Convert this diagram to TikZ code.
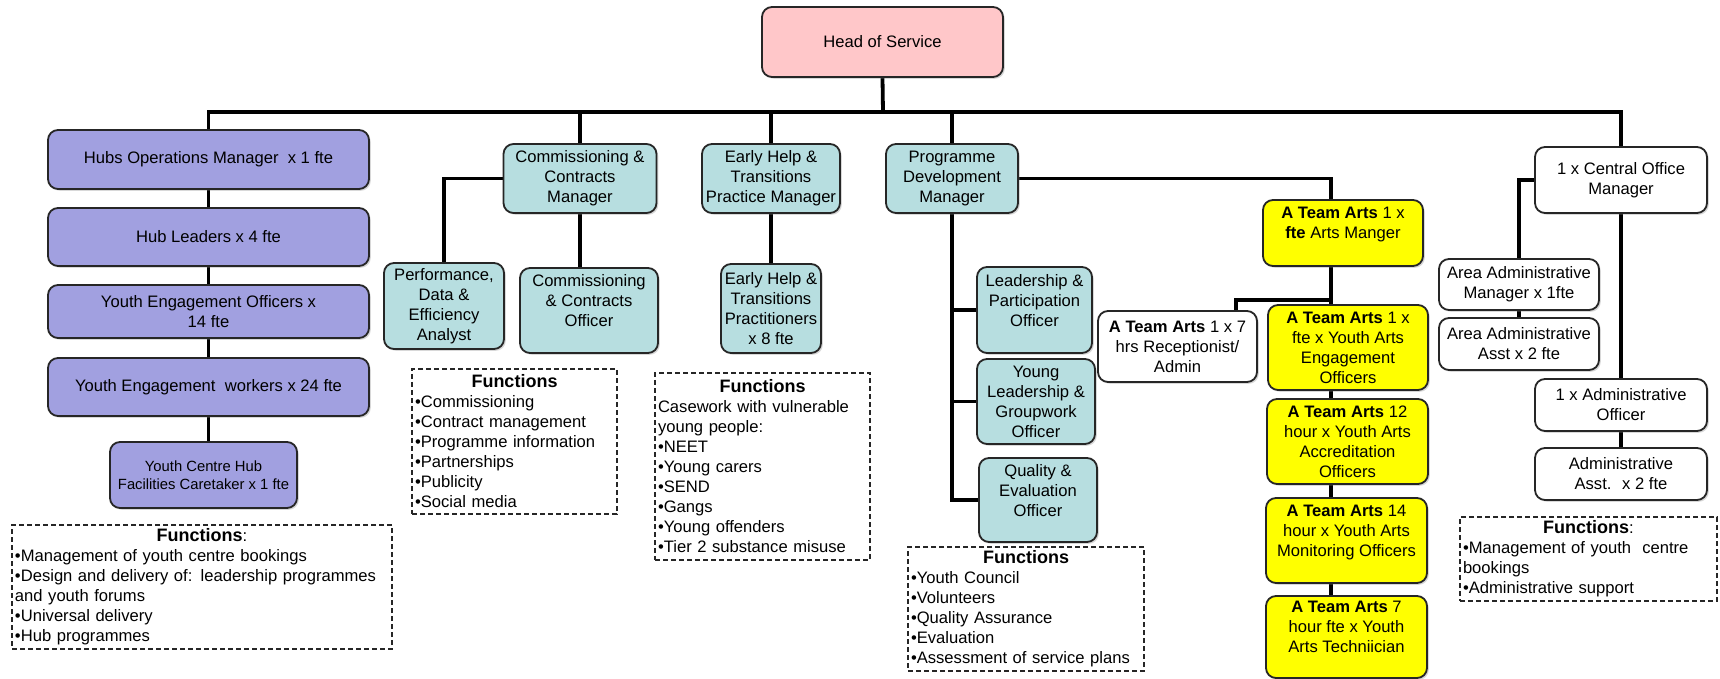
\documentclass[tikz,border=0pt]{standalone}
\usepackage{fontspec}
\setmainfont{Liberation Sans}
\usetikzlibrary{shadows,backgrounds}

\definecolor{hubfill}{RGB}{161,160,224}
\definecolor{tealfill}{RGB}{183,222,224}
\definecolor{headfill}{RGB}{255,199,201}
\definecolor{artsfill}{RGB}{255,255,0}

\newcommand\fsz{\fontsize{8.3}{10}\selectfont}
\newcommand\fsmall{\fontsize{7.4}{9}\selectfont}
\newcommand\fntitle[1]{\makebox[\linewidth]{{\fontsize{9}{10}\selectfont\bfseries Functions}#1}}

\begin{document}
\begin{tikzpicture}[x=0.5pt,y=-0.5pt,
  box/.style={draw=black!85, line width=0.9pt, rounded corners=5pt, align=center,
    inner sep=1pt, font=\fsz,
    drop shadow={shadow xshift=0.9pt, shadow yshift=-0.9pt, opacity=0.3}},
  wh/.style 2 args={minimum width=#1*0.5pt, minimum height=#2*0.5pt},
  hub/.style={box, fill=hubfill},
  teal/.style={box, fill=tealfill},
  arts/.style={box, fill=artsfill},
  plain/.style={box, fill=white},
  fnbox/.style={draw=black!85, line width=0.7pt, dash pattern=on 2.5pt off 1.5pt,
    align=left, inner sep=1.5pt, font=\fsz, fill=white},
  conn/.style={line width=1.9pt, black}]

\useasboundingbox (0,0) rectangle (1720,679);

% head
\node[box, fill=headfill, wh={241}{70}] (head) at (882.5,42) {Head of Service};

% hubs column
\node[hub, wh={321}{59}] (hubops) at (208.5,159.5) {Hubs Operations Manager \ x 1 fte};
\node[hub, wh={321}{58}] (hubldr) at (208.5,237) {Hub Leaders x 4 fte};
\node[hub, wh={321}{53}] (yeo) at (208.5,311.5) {Youth Engagement Officers x\\14 fte};
\node[hub, wh={321}{58}] (yew) at (208.5,387) {Youth Engagement \ workers x 24 fte};
\node[hub, wh={187}{66}, font=\fsmall] (caretaker) at (203.5,475) {Youth Centre Hub\\Facilities Caretaker x 1 fte};
\node[fnbox, minimum width=190pt, minimum height=62pt, text width=187pt] (fnhub) at (202,587)
  {\fntitle{:}\\
   •Management of youth centre bookings\\
   •Design and delivery of: leadership programmes\\
   and youth forums\\
   •Universal delivery\\
   •Hub programmes};

% commissioning
\node[teal, wh={153}{69}] (commgr) at (580,178.5) {Commissioning \&\\Contracts\\Manager};
\node[teal, wh={120}{86}] (perf) at (444,306) {Performance,\\Data \&\\Efficiency\\Analyst};
\node[teal, wh={138}{85}] (commoff) at (589,310.5) {Commissioning\\\& Contracts\\Officer\\\mbox{}};
\node[fnbox, minimum width=102.5pt, minimum height=72.5pt, text width=99.5pt] (fncomm) at (514.5,441.5)
  {\fntitle{}\\
   •Commissioning\\
   •Contract management\\
   •Programme information\\
   •Partnerships\\
   •Publicity\\
   •Social media};

% early help
\node[teal, wh={138}{69}] (ehmgr) at (771,178.5) {Early Help \&\\Transitions\\Practice Manager};
\node[teal, wh={100}{89}] (ehprac) at (771,308.5) {Early Help \&\\Transitions\\Practitioners\\x 8 fte};
\node[fnbox, minimum width=107.5pt, minimum height=93.5pt, text width=104.5pt] (fncase) at (762.5,466.5)
  {\fntitle{}\\
   Casework with vulnerable\\
   young people:\\
   •NEET\\
   •Young carers\\
   •SEND\\
   •Gangs\\
   •Young offenders\\
   •Tier 2 substance misuse};

% programme development
\node[teal, wh={132}{69}] (progmgr) at (952,178.5) {Programme\\Development\\Manager};
\node[teal, wh={115}{86}] (lead) at (1034.5,310) {Leadership \&\\Participation\\Officer\\\mbox{}};
\node[teal, wh={118}{85}] (younglead) at (1036,401.5) {Young\\Leadership \&\\Groupwork\\Officer};
\node[teal, wh={118}{84}] (quality) at (1038,500) {Quality \&\\Evaluation\\Officer\\\mbox{}};
\node[fnbox, minimum width=118pt, minimum height=62pt, text width=115pt] (fnprog) at (1026,609)
  {\fntitle{}\\
   •Youth Council\\
   •Volunteers\\
   •Quality Assurance\\
   •Evaluation\\
   •Assessment of service plans};

% A Team Arts
\node[arts, wh={160}{66}] (artsmgr) at (1343,233) {\textbf{A Team Arts} 1 x\\\textbf{fte} Arts Manger\\\mbox{}};
\node[plain, wh={159}{71}] (recep) at (1177.5,346.5) {\textbf{A Team Arts} 1 x 7\\hrs Receptionist/\\Admin};
\node[arts, wh={160}{85}] (engage) at (1348,347.5) {\textbf{A Team Arts} 1 x\\fte x Youth Arts\\Engagement\\Officers};
\node[arts, wh={161}{85}] (accred) at (1347.5,441.5) {\textbf{A Team Arts} 12\\hour x Youth Arts\\Accreditation\\Officers};
\node[arts, wh={161}{85}] (monitor) at (1346.5,540.5) {\textbf{A Team Arts} 14\\hour x Youth Arts\\Monitoring Officers\\\mbox{}};
\node[arts, wh={161}{82}] (tech) at (1346.5,637) {\textbf{A Team Arts} 7\\hour fte x Youth\\Arts Techniician\\\mbox{}};

% central office
\node[plain, wh={172}{66}] (central) at (1621,180) {1 x Central Office\\Manager};
\node[plain, wh={160}{51}] (aam) at (1519,284.5) {Area Administrative\\Manager x 1fte};
\node[plain, wh={160}{52}] (aaa) at (1519,344) {Area Administrative\\Asst x 2 fte};
\node[plain, wh={172}{52}] (adminoff) at (1621,405) {1 x Administrative\\Officer};
\node[plain, wh={172}{52}] (adminasst) at (1621,474) {Administrative\\Asst. \ x 2 fte};
\node[fnbox, minimum width=128.5pt, minimum height=42pt, text width=125.5pt] (fnadmin) at (1588.5,559)
  {\fntitle{:}\\
   •Management of youth \ centre\\
   bookings\\
   •Administrative support};

% junction points of the connectors
\coordinate (busy) at (883,112);
\coordinate (artsx) at (1331,180);
\coordinate (recx) at (1236,300);

\begin{pgfonlayer}{background}
  \fill[white] (0,0) rectangle (1720,679);
  % main bus
  \draw[conn] (head.south) -- (busy);
  \draw[conn] (hubops.north) -- (hubops.north |- busy) -- (central.north |- busy) -- (central.north);
  \draw[conn] (commgr.north) -- (commgr.north |- busy);
  \draw[conn] (ehmgr.north) -- (ehmgr.north |- busy);
  \draw[conn] (progmgr.north) -- (progmgr.north |- busy);
  % hubs chain
  \draw[conn] (hubops) -- (hubldr) -- (yeo) -- (yew) -- (yew |- caretaker.north);
  % commissioning
  \draw[conn] (commgr.west) -| (perf.north);
  \draw[conn] (commgr) -- (commgr |- commoff.north);
  % early help
  \draw[conn] (ehmgr) -- (ehprac);
  % programme development
  \draw[conn] (progmgr) -- (progmgr |- quality.west) -- (quality.west);
  \draw[conn] (progmgr |- lead.west) -- (lead.west);
  \draw[conn] (progmgr |- younglead.west) -- (younglead.west);
  \draw[conn] (progmgr.east) -- (progmgr.east -| artsx) -- (artsx |- artsmgr.north);
  \draw[conn] (artsx |- artsmgr.south) -- (artsx |- tech.north);
  \draw[conn] (artsx |- recx) -- (recx) -- (recx |- recep.north);
  % central office
  \draw[conn] (central.west) -| (aam.north);
  \draw[conn] (aam) -- (aaa);
  \draw[conn] (central) -- (central |- adminoff.north);
  \draw[conn] (adminoff) -- (adminasst);
\end{pgfonlayer}
\end{tikzpicture}
\end{document}
